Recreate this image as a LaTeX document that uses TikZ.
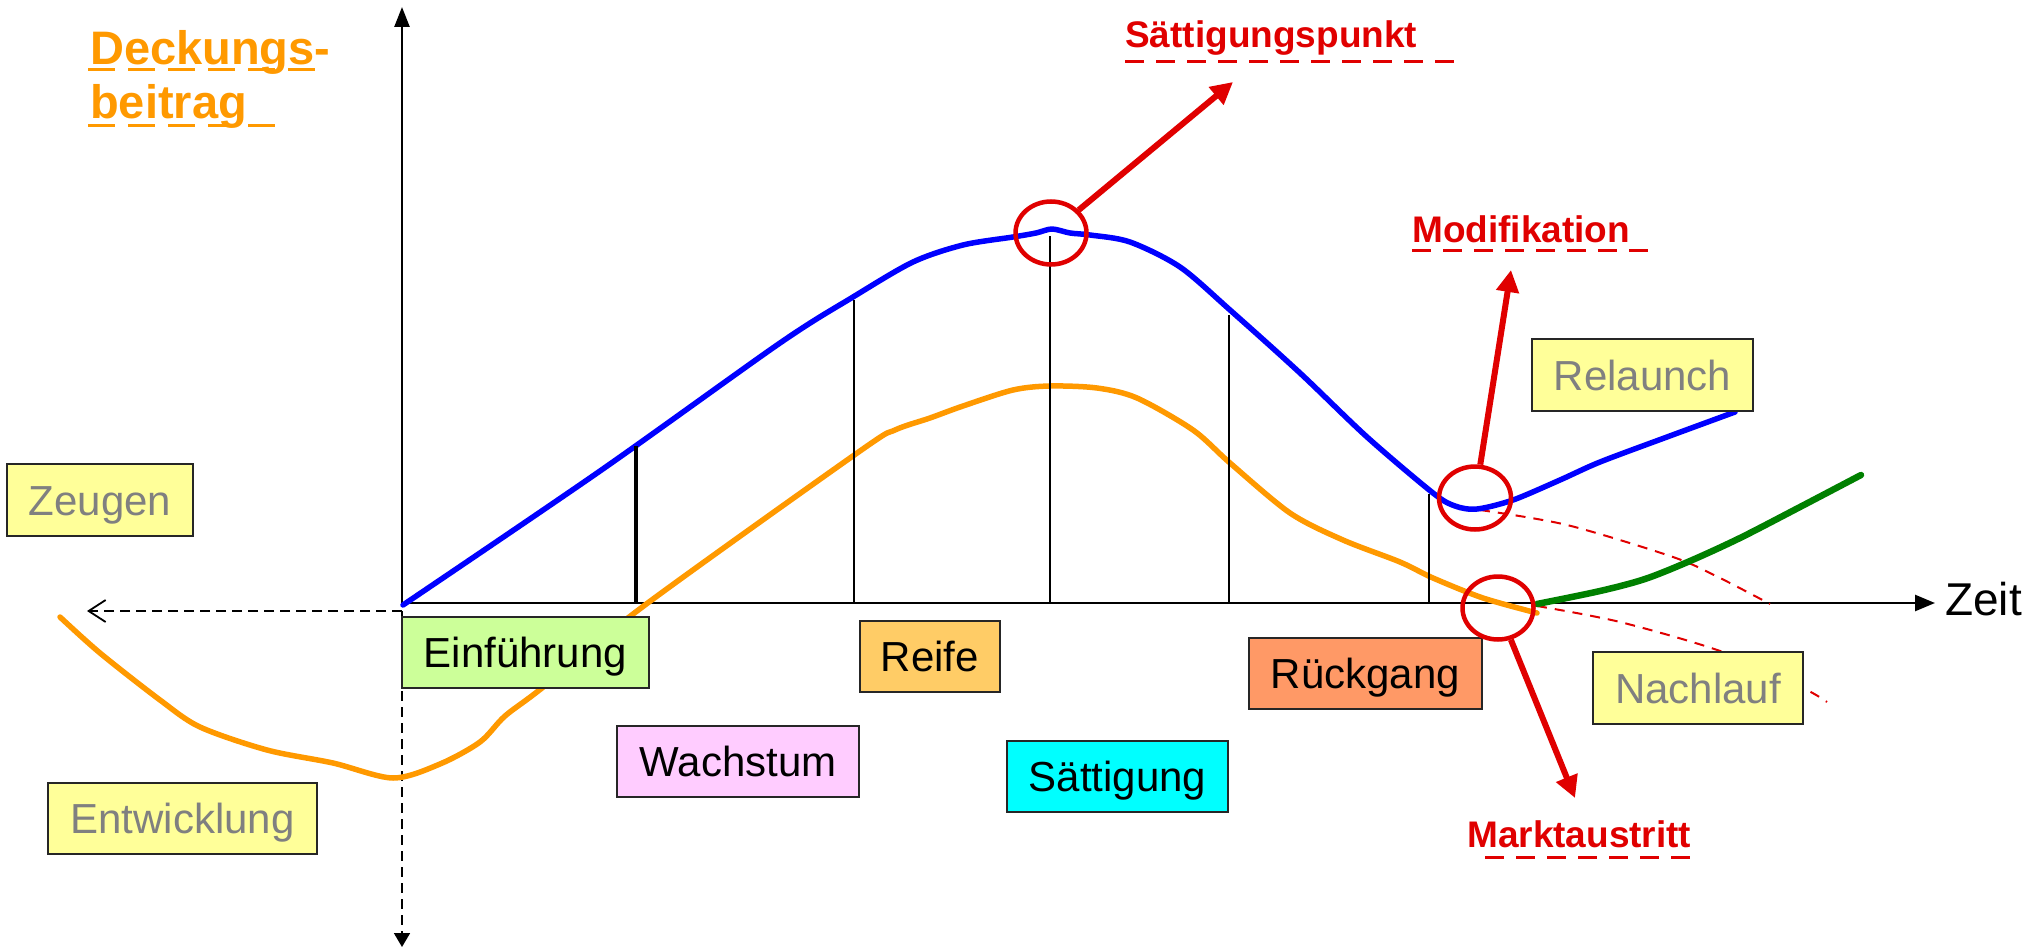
\documentclass[tikz,border=0pt]{standalone}
\usepackage{fontspec}
\setmainfont{Liberation Sans}
\usetikzlibrary{arrows.meta,shapes.geometric}
\definecolor{dbOrange}{HTML}{FF9900}
\definecolor{dbRed}{HTML}{E00000}
\definecolor{dbBlue}{HTML}{0000FF}
\definecolor{dbGreen}{HTML}{008000}
\definecolor{dbYellow}{HTML}{FFFF99}
\definecolor{dbGray}{HTML}{808080}
\definecolor{dbLime}{HTML}{CCFF99}
\definecolor{dbPink}{HTML}{FFCCFF}
\definecolor{dbGold}{HTML}{FFCC66}
\definecolor{dbCyan}{HTML}{00FFFF}
\definecolor{dbSalmon}{HTML}{FF9966}
\begin{document}
\begin{tikzpicture}[x=1pt,y=-1pt,
  phase/.style={draw=black!85, line width=2.2pt, inner sep=0pt, text height=30pt, text depth=0pt,
    font=\fontsize{42}{48}\selectfont},
  note/.style={phase, fill=dbYellow, text=dbGray},
  curve/.style={line width=5.5pt, line join=round, line cap=round},
  ring/.style={ellipse, draw=dbRed, line width=4.5pt, inner sep=0pt},
  redarrow/.style={draw=dbRed, line width=6pt, -{Triangle[length=22pt,width=22pt]}},
  redlabel/.style={text=dbRed, font=\bfseries\fontsize{37}{44}\selectfont, anchor=base west, inner sep=0pt},
  redunder/.style={draw=dbRed, line width=3pt, dash pattern=on 19pt off 12pt},
  orangeunder/.style={draw=dbOrange, line width=3pt, dash pattern=on 27pt off 13pt},
  reddash/.style={draw=dbRed, line width=2pt, dash pattern=on 10pt off 8pt},
  blackdash/.style={draw=black, line width=1.8pt, dash pattern=on 10pt off 6pt},
  tick/.style={draw=black, line width=2pt},
  axis/.style={draw=black, line width=2.5pt},
  ]
\useasboundingbox (0,0) rectangle (2040,947);

% axes
\coordinate (O) at (402,603);
\coordinate (ytop) at (402,7);
\coordinate (xend) at (1935,603);
\coordinate (Od) at (402,611);
\coordinate (leftend) at (87,611);
\coordinate (downend) at (402,947);
\draw[blackdash, -{Straight Barb[length=17pt,width=22pt]}] (Od) -- (leftend);
\draw[blackdash, -{Triangle[length=14pt,width=16pt]}] (Od) -- (downend);
\draw[axis, -{Triangle[length=20pt,width=15pt]}] (O) -- (ytop);
\draw[axis, -{Triangle[length=20pt,width=16pt]}] (O) -- (xend);
\node[anchor=base west, inner sep=0pt, font=\fontsize{46}{52}\selectfont] (zeit) at (1945,615) {Zeit};

% red dashed continuations
\draw[reddash] plot[smooth] coordinates {(1480,510) (1567,525) (1673,557) (1720,578) (1770,604)};
\draw[reddash] plot[smooth] coordinates {(1537,606) (1620,622) (1723,652) (1803,688) (1827,702)};

% curves
\draw[curve, dbOrange] plot[smooth, tension=0.5] coordinates {(60,617) (100,653) (160,700) (200,727) (267,750) (333,763) (393,778) (440,764) (480,742) (505,716) (542,688) (645,605) (860,451) (895,430) (930,418) (963,406) (1013,390) (1050,386) (1097,388) (1137,398) (1193,430) (1230,463) (1290,513) (1343,540) (1400,562) (1433,578) (1483,598) (1537,613)};
\draw[curve, dbBlue] plot[smooth, tension=0.5] coordinates {(403,605) (600,471) (780,343) (853,297) (913,262) (963,245) (1013,237) (1036,233) (1052,229) (1070,233) (1090,235) (1130,242) (1180,267) (1230,310) (1300,373) (1367,437) (1433,493) (1455,506) (1477,509) (1513,500) (1560,480) (1600,462) (1667,437) (1735,412)};
\draw[curve, dbGreen, line width=6.5pt] plot[smooth] coordinates {(1537,604) (1600,591) (1645,579) (1690,561) (1740,538) (1800,507) (1861,475)};

% phase ticks
\draw[tick, line width=3.5pt] (636,446) -- (636,603);
\draw[tick] (854,300) -- (854,603);
\draw[tick] (1050,236) -- (1050,603);
\draw[tick] (1229,315) -- (1229,603);
\draw[tick] (1429,494) -- (1429,603);

% boxes
\node[note, minimum width=186pt, minimum height=72pt] (zeugen) at (100,500) {Zeugen};
\node[note, minimum width=269pt, minimum height=71pt] (entw) at (182.5,818.5) {Entwicklung};
\node[phase, fill=dbLime, minimum width=247pt, minimum height=71pt] (einf) at (525.5,652.5) {Einführung};
\node[phase, fill=dbPink, minimum width=242pt, minimum height=71pt] (wachs) at (738,761.5) {Wachstum};
\node[phase, fill=dbGold, minimum width=140pt, minimum height=71pt] (reife) at (930,656.5) {Reife};
\node[phase, fill=dbCyan, minimum width=221pt, minimum height=71pt] (saett) at (1117.5,776.5) {Sättigung};
\node[phase, fill=dbSalmon, minimum width=233pt, minimum height=71pt] (rueck) at (1365.5,673.5) {Rückgang};
\node[note, minimum width=210pt, minimum height=72pt] (nach) at (1698,688) {Nachlauf};
\node[note, minimum width=221pt, minimum height=72pt] (relaunch) at (1642.5,375) {Relaunch};

% rings
\node[ring, minimum width=71pt, minimum height=63pt] (c1) at (1051,233) {};
\node[ring, minimum width=72pt, minimum height=63pt] (c2) at (1475,498) {};
\node[ring, minimum width=71pt, minimum height=63pt] (c3) at (1498,608) {};

% red arrows
\coordinate (t1) at (1233,82);
\coordinate (t2) at (1511,270);
\coordinate (t3) at (1575,798);
\draw[redarrow] (c1) -- (t1);
\draw[redarrow] (c2) -- (t2);
\draw[redarrow] (c3) -- (t3);

% red labels
\node[redlabel] (lsp) at (1125,48) {Sättigungspunkt};
\draw[redunder] (1125,62) -- (1455,62);
\node[redlabel] (lmod) at (1412,242) {Modifikation};
\draw[redunder] (1412,250) -- (1648,250);
\node[redlabel] (lmkt) at (1467,847) {Marktaustritt};
\draw[redunder] (1485,857) -- (1691,857);

% y label
\node[anchor=base west, inner sep=0pt, text=dbOrange, font=\bfseries\fontsize{47}{54}\selectfont] (db1) at (90,65) {Deckungs-};
\node[anchor=base west, inner sep=0pt, text=dbOrange, font=\bfseries\fontsize{47}{54}\selectfont] (db2) at (90,119) {beitrag};
\draw[orangeunder] (88,70) -- (316,70);
\draw[orangeunder] (88,126) -- (276,126);
\end{tikzpicture}
\end{document}
